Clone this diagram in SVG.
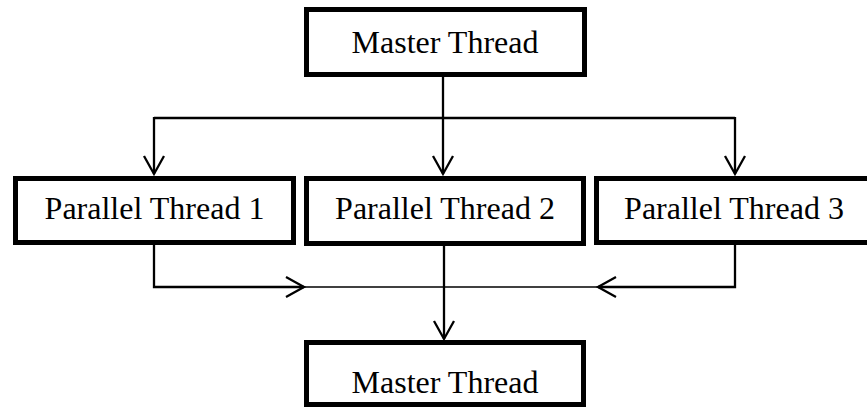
<svg xmlns="http://www.w3.org/2000/svg" width="867" height="408" viewBox="0 0 867 408">
<style>
.box{fill:#fff;stroke:#000;stroke-width:5}
.lbl{font-family:"Liberation Serif","Times New Roman",serif;font-size:32px;fill:#000;text-anchor:middle}
.c{fill:none;stroke:#000;stroke-width:2.3}
.thin{fill:none;stroke:#000;stroke-width:1.5}
</style>
<defs>
<marker id="arr" markerUnits="userSpaceOnUse" viewBox="-20 -12 22 24" refX="0" refY="0" markerWidth="22" markerHeight="24" orient="auto" overflow="visible">
<path d="M-18,-10 L0,0 L-18,10" fill="none" stroke="#000" stroke-width="2.3"/>
</marker>
</defs>
<rect width="867" height="408" fill="#fff"/>
<g id="connectors">
<line class="c" x1="443" y1="77" x2="443" y2="118"/>
<line class="c" x1="154" y1="118" x2="735" y2="118"/>
<line class="c" x1="154" y1="117" x2="154" y2="174" marker-end="url(#arr)"/>
<line class="c" x1="443" y1="118" x2="443" y2="174" marker-end="url(#arr)"/>
<line class="c" x1="735" y1="117" x2="735" y2="174" marker-end="url(#arr)"/>
<polyline class="c" points="154,245 154,287 304,287" marker-end="url(#arr)"/>
<polyline class="c" points="735,245 735,287 598,287" marker-end="url(#arr)"/>
<line class="thin" x1="304" y1="287" x2="598" y2="287"/>
<line class="c" x1="444" y1="246" x2="444" y2="339" marker-end="url(#arr)"/>
</g>
<g id="master-top">
<rect class="box" x="306.5" y="9.5" width="278" height="65"/>
<text class="lbl" x="445" y="53">Master Thread</text>
</g>
<g id="parallel-1">
<rect class="box" x="15.5" y="178.5" width="278" height="64"/>
<text class="lbl" x="154.5" y="219">Parallel Thread 1</text>
</g>
<g id="parallel-2">
<rect class="box" x="306.5" y="178.5" width="277" height="65"/>
<text class="lbl" x="445" y="219">Parallel Thread 2</text>
</g>
<g id="parallel-3">
<rect class="box" x="596.5" y="178.5" width="280" height="64"/>
<text class="lbl" x="734" y="219">Parallel Thread 3</text>
</g>
<g id="master-bottom">
<rect class="box" x="306.5" y="342.5" width="277" height="62"/>
<text class="lbl" x="445" y="393">Master Thread</text>
</g>
</svg>
